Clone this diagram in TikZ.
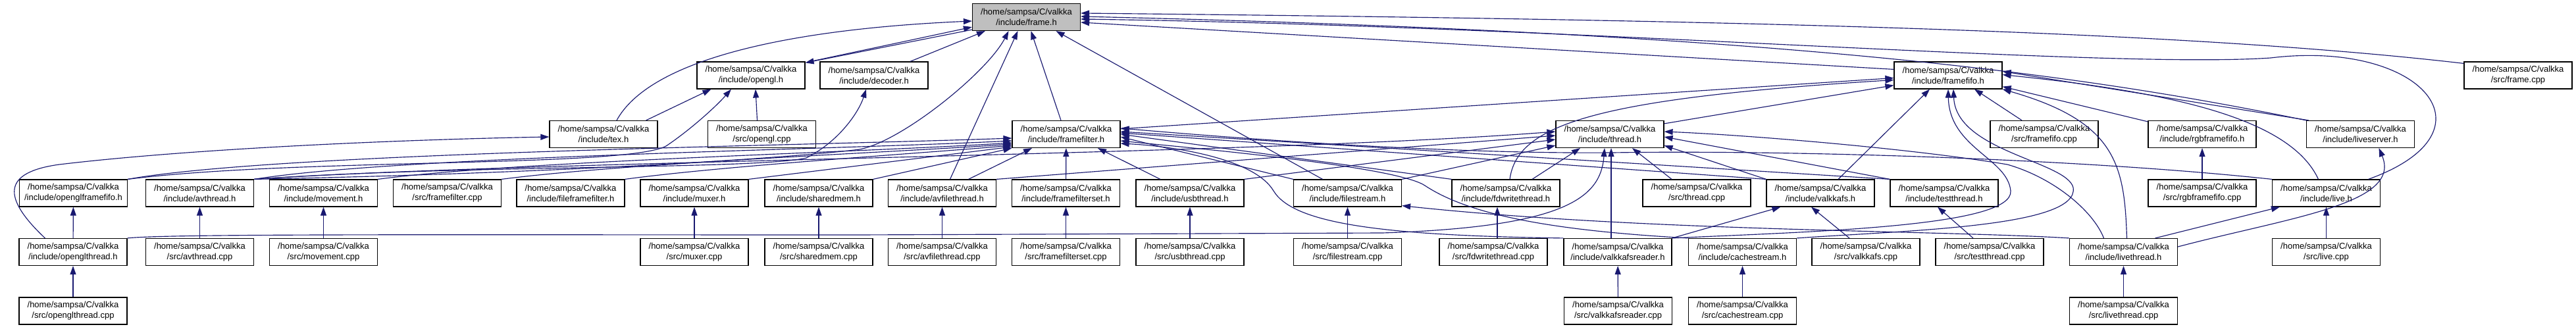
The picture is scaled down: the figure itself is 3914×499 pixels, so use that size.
\documentclass[tikz,border=0pt]{standalone}
\usepackage{fontspec}
\setmainfont{Liberation Sans}
\usepackage{tikz}
\usetikzlibrary{calc,arrows.meta}
\definecolor{edgeblue}{HTML}{191970}
\definecolor{framegray}{HTML}{BFBFBF}
\newcommand{\valkka}[1]{/home/sampsa/C/valkka\\/#1}

\begin{document}
\begin{tikzpicture}[x=1pt, y=-1pt,
  every node/.style={font=\fontsize{13}{16}\selectfont, align=center, inner sep=2pt},
  file/.style={draw=black, line width=1.2pt, fill=white, minimum width=164pt, minimum height=41pt},
  dep/.style={draw=edgeblue, line width=1.15pt, -{Triangle[length=13pt, width=9pt]}}]
\useasboundingbox (0,0) rectangle (3914,499);

% rows of files
\node[file, fill=framegray] (frame) at (1559.5,26) {\valkka{include/frame.h}};

\node[file] (opengl) at (1141,114.5) {\valkka{include/opengl.h}};
\node[file] (decoder) at (1328,114.5) {\valkka{include/decoder.h}};
\node[file] (framefifo) at (2960,114.5) {\valkka{include/framefifo.h}};
\node[file] (framecpp) at (3826,114.5) {\valkka{src/frame.cpp}};

\node[file] (tex) at (917,204) {\valkka{include/tex.h}};
\node[file] (openglcpp) at (1157.5,204) {\valkka{src/opengl.cpp}};
\node[file] (framefilter) at (1620,204) {\valkka{include/framefilter.h}};
\node[file] (thread) at (2446,204) {\valkka{include/thread.h}};
\node[file] (framefifocpp) at (3106,204) {\valkka{src/framefifo.cpp}};
\node[file] (rgbframefifo) at (3346,204) {\valkka{include/rgbframefifo.h}};
\node[file] (liveserver) at (3586.5,204) {\valkka{include/liveserver.h}};

\node[file] (oglfifo) at (111.5,293.5) {\valkka{include/openglframefifo.h}};
\node[file] (avthread) at (303.5,293.5) {\valkka{include/avthread.h}};
\node[file] (movement) at (491.5,293.5) {\valkka{include/movement.h}};
\node[file] (framefiltercpp) at (679.5,293.5) {\valkka{src/framefilter.cpp}};
\node[file] (fileframefilter) at (867,293.5) {\valkka{include/fileframefilter.h}};
\node[file] (muxer) at (1055,293.5) {\valkka{include/muxer.h}};
\node[file] (sharedmem) at (1244,293.5) {\valkka{include/sharedmem.h}};
\node[file] (avfilethread) at (1431.5,293.5) {\valkka{include/avfilethread.h}};
\node[file] (framefilterset) at (1619.5,293.5) {\valkka{include/framefilterset.h}};
\node[file] (usbthread) at (1808,293.5) {\valkka{include/usbthread.h}};
\node[file] (filestream) at (2047.5,293.5) {\valkka{include/filestream.h}};
\node[file] (fdwritethread) at (2288,293.5) {\valkka{include/fdwritethread.h}};
\node[file] (threadcpp) at (2578,293.5) {\valkka{src/thread.cpp}};
\node[file] (valkkafs) at (2766,293.5) {\valkka{include/valkkafs.h}};
\node[file] (testthread) at (2954,293.5) {\valkka{include/testthread.h}};
\node[file] (rgbcpp) at (3346,293.5) {\valkka{src/rgbframefifo.cpp}};
\node[file] (live) at (3534.5,293.5) {\valkka{include/live.h}};

\node[file] (oglthread) at (111,383) {\valkka{include/openglthread.h}};
\node[file] (avthreadcpp) at (303.5,383) {\valkka{src/avthread.cpp}};
\node[file] (movementcpp) at (491.5,383) {\valkka{src/movement.cpp}};
\node[file] (muxercpp) at (1055,383) {\valkka{src/muxer.cpp}};
\node[file] (sharedmemcpp) at (1244,383) {\valkka{src/sharedmem.cpp}};
\node[file] (avfilethreadcpp) at (1431.5,383) {\valkka{src/avfilethread.cpp}};
\node[file] (framefiltersetcpp) at (1619.5,383) {\valkka{src/framefilterset.cpp}};
\node[file] (usbthreadcpp) at (1808,383) {\valkka{src/usbthread.cpp}};
\node[file] (filestreamcpp) at (2047.5,383) {\valkka{src/filestream.cpp}};
\node[file] (fdwritecpp) at (2269,383) {\valkka{src/fdwritethread.cpp}};
\node[file] (vreader) at (2458,383) {\valkka{include/valkkafsreader.h}};
\node[file] (cache) at (2647.5,383) {\valkka{include/cachestream.h}};
\node[file] (valkkafscpp) at (2835,383) {\valkka{src/valkkafs.cpp}};
\node[file] (testthreadcpp) at (3023,383) {\valkka{src/testthread.cpp}};
\node[file] (livethread) at (3226.5,383) {\valkka{include/livethread.h}};
\node[file] (livecpp) at (3534.5,383) {\valkka{src/live.cpp}};

\node[file] (oglthreadcpp) at (111,472.5) {\valkka{src/openglthread.cpp}};
\node[file] (vreadercpp) at (2458.5,472.5) {\valkka{src/valkkafsreader.cpp}};
\node[file] (cachecpp) at (2647.5,472.5) {\valkka{src/cachestream.cpp}};
\node[file] (livethreadcpp) at (3226.5,472.5) {\valkka{src/livethread.cpp}};

% frame.h
\draw[dep] ($(tex.north)+(20,0)$) .. controls (985,95) and (1180,45) .. ($(frame.west)+(0,6)$);
\draw[dep] ($(opengl.north east)+(8,0)$) -- ($(frame.south west)+(0,-6)$);
\draw[dep] ($(frame.south west)+(0,-2)$) -- ($(opengl.north east)+(0,2)$);
\draw[dep] ($(decoder.north)+(55,0)$) -- ($(frame.south west)+(20,0)$);
\draw[dep] (avthread.north east) .. controls (900,262) and (1230,237) .. (1306,227) .. controls (1370,215) and (1500,110) .. ($(frame.south)+(-27,0)$);
\draw[dep] ($(avfilethread.north)+(12,0)$) -- ($(frame.south)+(-13,0)$);
\draw[dep] ($(framefilter.north)+(-8,0)$) -- ($(frame.south)+(7,0)$);
\draw[dep] ($(filestream.north)+(-38,0)$) -- ($(frame.south)+(45,0)$);
\draw[dep] ($(framefifo.north west)+(0,12)$) -- ($(frame.east)+(0,8)$);
\draw[dep] ($(framecpp.north west)+(0,3)$) .. controls (3300,45) and (2600,30) .. ($(frame.east)+(0,-6)$);
\draw[dep] (liveserver.north west) .. controls (3150,110) and (2700,50) .. ($(frame.east)+(0,-1)$);
\draw[dep] ($(live.north)+(64,0)$) .. controls (3800,200) and (3680,60) .. (3450,88) .. controls (3200,105) and (2400,40) .. ($(frame.east)+(0,3)$);

% opengl.h, decoder.h, tex.h
\draw[dep] ($(tex.north east)+(-18,0)$) -- ($(opengl.south west)+(22,0)$);
\draw[dep] ($(openglcpp.north)+(-7,0)$) -- ($(opengl.south)+(7,0)$);
\draw[dep] (oglfifo.north east) .. controls (450,240) and (950,255) .. (1012,222) .. controls (1045,200) and (1085,165) .. ($(opengl.south)+(-30,0)$);
\draw[dep] (avthread.north east) .. controls (700,250) and (1150,258) .. (1225,240) .. controls (1275,215) and (1305,170) .. ($(decoder.south)+(-12,0)$);
\draw[dep] ($(oglthread.north west)+(40,0)$) .. controls (3,300) and (3,262) .. (90,250) .. controls (300,225) and (620,212) .. ($(tex.west)+(0,4)$);

% framefifo.h
\draw[dep] ($(framefilter.north east)+(0,13)$) -- ($(framefifo.west)+(0,4)$);
\draw[dep] ($(thread.north east)+(0,5)$) -- ($(framefifo.south west)+(0,-6)$);
\draw[dep] ($(fdwritethread.north)+(6,0)$) .. controls (2305,190) and (2420,150) .. ($(framefifo.west)+(0,7)$);
\draw[dep] ($(valkkafs.north)+(27,0)$) -- ($(framefifo.south)+(-28,0)$);
\draw[dep] (vreader.north east) .. controls (2750,352) and (3060,345) .. (3055,290) .. controls (3050,240) and (2962,225) .. (framefifo.south);
\draw[dep] (cache.north east) .. controls (2900,350) and (3160,345) .. (3150,285) .. controls (3140,245) and (2972,230) .. ($(framefifo.south)+(8,0)$);
\draw[dep] ($(framefifocpp.north)+(-34,0)$) -- ($(framefifo.south)+(40,0)$);
\draw[dep] ($(liveserver.north west)+(4,0)$) -- ($(framefifo.east)+(0,-6)$);
\draw[dep] ($(live.north)+(-12,0)$) .. controls (3480,180) and (3300,140) .. ($(framefifo.east)+(0,-1)$);
\draw[dep] ($(rgbframefifo.north west)+(0,2)$) -- ($(framefifo.south east)+(0,-4)$);
\draw[dep] ($(livethread.north)+(5,0)$) .. controls (3228,250) and (3215,185) .. (framefifo.south east);

% framefilter.h
\draw[dep] (oglfifo.north east) .. controls (420,232) and (1200,222) .. ($(framefilter.west)+(0,6)$);
\draw[dep] (avthread.north east) .. controls (600,238) and (1250,228) .. ($(framefilter.west)+(0,10)$);
\draw[dep] (movement.north east) .. controls (780,245) and (1300,232) .. ($(framefilter.west)+(0,13)$);
\draw[dep] (framefiltercpp.north east) .. controls (950,248) and (1350,232) .. ($(framefilter.west)+(0,15)$);
\draw[dep] (fileframefilter.north east) .. controls (1100,252) and (1400,233) .. ($(framefilter.west)+(0,17)$);
\draw[dep] (muxer.north east) -- ($(framefilter.south west)+(0,-2)$);
\draw[dep] (sharedmem.north east) -- (framefilter.south west);
\draw[dep] ($(avfilethread.north)+(40,0)$) -- ($(framefilter.south)+(-52,0)$);
\draw[dep] (framefilterset) -- (framefilter);
\draw[dep] ($(usbthread.north)+(-45,0)$) -- ($(framefilter.south)+(48,0)$);
\draw[dep] (filestream.north west) -- ($(framefilter.east)+(0,4)$);
\draw[dep] (fdwritethread.north west) -- (framefilter.east);
\draw[dep] (valkkafs.north west) -- ($(framefilter.east)+(0,-2)$);
\draw[dep] (testthread.north west) -- ($(framefilter.east)+(0,-4)$);
\draw[dep] (live.north west) .. controls (3150,240) and (2700,228) .. (2450,232) .. controls (2200,234) and (1900,212) .. ($(framefilter.north east)+(0,12)$);
\draw[dep] (vreader.north west) .. controls (2100,358) and (1965,340) .. (1935,290) .. controls (1905,240) and (1780,222) .. ($(framefilter.east)+(0,14)$);
\draw[dep] (cache.north west) .. controls (2350,350) and (2230,325) .. (2165,282) .. controls (2120,252) and (1800,224) .. ($(framefilter.east)+(0,10)$);

% thread.h
\draw[dep] (avthread.north east) .. controls (800,244) and (1900,236) .. ($(thread.west)+(0,-4)$);
\draw[dep] (avfilethread.north east) -- ($(thread.west)+(0,2)$);
\draw[dep] (usbthread.north east) -- ($(thread.west)+(0,8)$);
\draw[dep] (filestream.north east) -- ($(thread.south west)+(0,-4)$);
\draw[dep] ($(fdwritethread.north)+(40,0)$) -- ($(thread.south)+(-45,0)$);
\draw[dep] (oglthread.north east) .. controls (260,355) and (700,357) .. (1300,357) -- (2100,354) .. controls (2380,345) and (2432,300) .. ($(thread.south)+(-8,0)$);
\draw[dep] ($(vreader.north)+(-10,0)$) -- ($(thread.south)+(2,0)$);
\draw[dep] ($(threadcpp.north)+(-38,0)$) -- ($(thread.south)+(34,0)$);
\draw[dep] (valkkafs.north west) -- ($(thread.south east)+(0,-4)$);
\draw[dep] (testthread.north west) -- ($(thread.east)+(0,4)$);
\draw[dep] ($(livethread.north)+(-30,0)$) .. controls (3180,320) and (3120,270) .. (3050,250) .. controls (2900,225) and (2650,205) .. ($(thread.east)+(0,-4)$);

% the rest
\draw[dep] (livethread.north west) .. controls (2950,350) and (2500,352) .. ($(filestream.south east)+(0,-2)$);
\draw[dep] (vreader.north east) -- ($(valkkafs.south west)+(22,0)$);
\draw[dep] ($(valkkafscpp.north)+(-25,0)$) -- ($(valkkafs.south)+(-14,0)$);
\draw[dep] ($(testthreadcpp.north)+(-25,0)$) -- ($(testthread.south)+(-10,0)$);
\draw[dep] ($(livethread.north)+(48,0)$) -- ($(live.south west)+(12,0)$);
\draw[dep] ($(livethread.east)+(0,-8)$) .. controls (3480,330) and (3650,310) .. ($(liveserver.south)+(28,0)$);
\draw[dep] ($(fdwritecpp.north)+(6,0)$) -- ($(fdwritethread.south)+(-13,0)$);
\draw[dep] (oglthread) -- (oglfifo);
\draw[dep] (oglthreadcpp) -- (oglthread);
\draw[dep] (avthreadcpp) -- (avthread);
\draw[dep] (movementcpp) -- (movement);
\draw[dep] (muxercpp) -- (muxer);
\draw[dep] (sharedmemcpp) -- (sharedmem);
\draw[dep] (avfilethreadcpp) -- (avfilethread);
\draw[dep] (framefiltersetcpp) -- (framefilterset);
\draw[dep] (usbthreadcpp) -- (usbthread);
\draw[dep] (filestreamcpp) -- (filestream);
\draw[dep] (vreadercpp) -- (vreader);
\draw[dep] (cachecpp) -- (cache);
\draw[dep] (livethreadcpp) -- (livethread);
\draw[dep] (livecpp) -- (live);
\draw[dep] (rgbcpp) -- (rgbframefifo);
\end{tikzpicture}
\end{document}
